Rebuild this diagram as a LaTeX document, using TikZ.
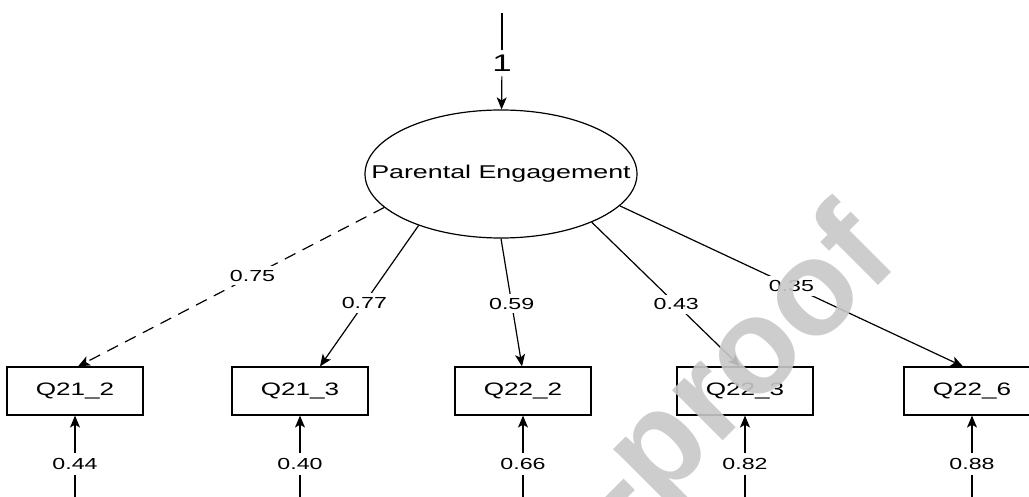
\documentclass[tikz,border=0pt]{standalone}
\usepackage{fontspec}
\setmainfont{Liberation Sans}
\newfontfamily\wfont[FakeStretch=1.45]{Liberation Sans}
\newfontfamily\wmfont{Liberation Sans}
\usetikzlibrary{shapes.geometric,arrows.meta}
\definecolor{wmgray}{RGB}{200,200,200}
\begin{document}
\begin{tikzpicture}[x=1pt,y=-1pt,
  lat/.style={ellipse,draw,line width=1.2pt,minimum width=272pt,minimum height=128pt,inner sep=0pt},
  lattext/.style={inner sep=0pt,font=\wfont\fontsize{18.5}{20}\selectfont},
  obs/.style={rectangle,draw,line width=1.2pt,minimum width=136pt,minimum height=48pt,inner sep=0pt,font=\wfont\fontsize{18}{20}\selectfont},
  lbl/.style={fill=white,inner xsep=2pt,inner ysep=4pt,font=\wfont\fontsize{16}{18}\selectfont},
  elbl/.style={inner xsep=2pt,inner ysep=5.2pt,font=\wfont\fontsize{16}{18}\selectfont},
  plain/.style={line width=1.2pt},
  conn/.style={line width=1.2pt,-{Stealth[length=12pt,width=10pt,inset=3pt]}},
  dconn/.style={conn,dash pattern=on 12pt off 8pt}
]
\useasboundingbox (0,0) rectangle (1029,497);
\clip (0,0) rectangle (1029,497);
\fill[white] (0,0) rectangle (1029,497);

% latent variable
\node[lat] (pe) at (501,174) {};
\node[lattext] (petext) at (pe.center) {Parental Engagement};

% observed indicators
\node[obs] (q1) at (75,391) {Q21\_2};
\node[obs] (q2) at (300,391) {Q21\_3};
\node[obs] (q3) at (523,391) {Q22\_2};
\node[obs] (q4) at (745,391) {Q22\_3};
\node[obs] (q5) at (972,391) {Q22\_6};

% variance of latent
\coordinate (t0) at (502,13);
\node[font=\wfont\fontsize{24}{26}\selectfont,inner sep=5pt] (one) at (502,63) {1};
\draw[plain] (t0) -- (one);
\draw[conn] (one) -- (pe);

% loadings
\draw[dconn] (pe.196) -- node[lbl,pos=0.43] {0.75} ([xshift=3pt]q1.north);
\draw[conn] (pe.212) -- node[lbl,pos=0.55] {0.77} ([xshift=20pt]q2.north);
\draw[conn] (pe.270) -- node[lbl,pos=0.51] {0.59} ([xshift=-1pt]q3.north);
\draw[conn] (pe.332) -- node[lbl,pos=0.57] {0.43} ([xshift=-5pt]q4.north);
\draw[conn] (pe.345) -- node[lbl,pos=0.50] {0.35} ([xshift=-9pt]q5.north);

% error terms
\foreach \n/\x/\v in {1/75/0.44, 2/300/0.40, 3/523/0.66, 4/745/0.82, 5/972/0.88}{
  \coordinate (b\n) at (\x,500);
  \node[elbl] (e\n) at (\x,464) {\v};
  \draw[plain] (b\n) -- (e\n);
  \draw[conn] (e\n) -- (q\n);
}

% watermark
\node[rotate=45,anchor=base east,inner sep=0pt,text=wmgray,text opacity=0.9,
  font=\wmfont\bfseries\fontsize{135}{140}\selectfont] (wmk) at (902,262) {Journal Pre-proof};
\end{tikzpicture}
\end{document}
